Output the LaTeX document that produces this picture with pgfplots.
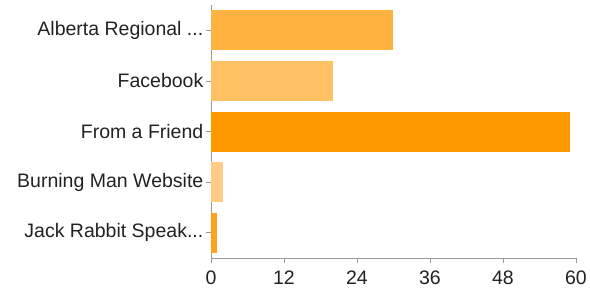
\documentclass[border=0pt]{standalone}
\usepackage{pgfplots}
\pgfplotsset{compat=1.18}
\usepackage{fontspec}
\setmainfont{Liberation Sans}
\definecolor{cA}{RGB}{255,178,64}
\definecolor{cB}{RGB}{255,193,100}
\definecolor{cC}{RGB}{255,153,0}
\definecolor{cD}{RGB}{255,204,133}
\definecolor{cE}{RGB}{255,163,28}
\definecolor{axgray}{RGB}{153,153,153}
\definecolor{txt}{RGB}{34,34,34}
\begin{document}
\fontsize{19.5bp}{23bp}\selectfont
\begin{tikzpicture}
\path[use as bounding box] (-211bp,-31bp) rectangle (379bp,258bp);
\begin{axis}[
  at={(0,0)}, anchor=south west,
  scale only axis,
  width=365bp, height=253bp,
  xmin=0, xmax=60,
  ymin=-0.5, ymax=4.5,
  y dir=reverse,
  xtick={0,12,24,36,48,60},
  ytick={0,1,2,3,4},
  yticklabels={{Alberta Regional ..{}.},{Facebook},{From a Friend},{Burning Man Website},{Jack Rabbit Speak..{}.}},
  axis x line*=bottom,
  axis y line*=left,
  axis line style={axgray, line width=0.8bp},
  x axis line style={-},
  y axis line style={-},
  tick style={axgray, line width=0.8bp},
  tick align=outside,
  major tick length=5bp,
  xticklabel style={txt, font=\fontsize{19.5bp}{23bp}\selectfont, yshift=-1bp},
  yticklabel style={txt, font=\fontsize{19.5bp}{23bp}\selectfont, xshift=4bp},
  /pgf/number format/assume math mode=true,
  xbar, bar width=40bp, bar shift=0pt,
  every axis plot/.append style={draw=none},
]
\addplot[fill=cA] coordinates {(30,0)};
\addplot[fill=cB] coordinates {(20,1)};
\addplot[fill=cC] coordinates {(59,2)};
\addplot[fill=cD] coordinates {(2,3)};
\addplot[fill=cE] coordinates {(1,4)};
\end{axis}
\end{tikzpicture}
\end{document}
